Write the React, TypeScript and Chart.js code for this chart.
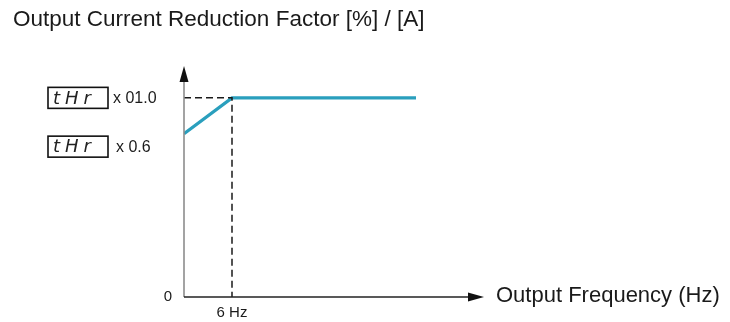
import React, { useEffect, useRef } from 'react';
import { Chart, registerables } from 'chart.js';

Chart.register(...registerables);

const titleText = 'Output Current Reduction Factor [%] / [A]';
const xAxisTitle = 'Output Frequency (Hz)';
const originLabel = '0';
const curveFreq = [0, 6, 29];
const curveFactor = [0.82, 1.0, 1.0];
const refFreq = [0, 6, 6];
const refFactor = [1.0, 1.0, 0];
const markerFreq = [6];
const markerLabels = ['6 Hz'];
const levelValues = [1.0, 0.755];
const levelLabels = ['x 01.0', 'x 0.6'];
const paramCode = 'tHr';
const xRange = [0, 37.5];
const yRange = [0, 1.16];

const FONT = '"Liberation Sans", Arial, sans-serif';

const overlay = {
  id: 'overlay',
  afterDraw(chart: any) {
    const { ctx, chartArea, scales } = chart;
    const xs = scales.x;
    const ys = scales.y;
    const x0 = xs.getPixelForValue(0);
    const y0 = ys.getPixelForValue(0);
    ctx.save();

    // title
    ctx.fillStyle = '#1a1a1a';
    ctx.font = `22.5px ${FONT}`;
    ctx.textAlign = 'left';
    ctx.textBaseline = 'middle';
    ctx.fillText(titleText, 13, 20);

    // y axis
    ctx.strokeStyle = '#8c8c8c';
    ctx.lineWidth = 1.6;
    ctx.beginPath();
    ctx.moveTo(x0, y0);
    ctx.lineTo(x0, chartArea.top + 12);
    ctx.stroke();
    ctx.fillStyle = '#111';
    ctx.beginPath();
    ctx.moveTo(x0, chartArea.top);
    ctx.lineTo(x0 - 4.5, chartArea.top + 16);
    ctx.lineTo(x0 + 4.5, chartArea.top + 16);
    ctx.closePath();
    ctx.fill();

    // x axis
    ctx.strokeStyle = '#222';
    ctx.lineWidth = 1.4;
    ctx.beginPath();
    ctx.moveTo(x0, y0);
    ctx.lineTo(chartArea.right - 12, y0);
    ctx.stroke();
    ctx.beginPath();
    ctx.moveTo(chartArea.right, y0);
    ctx.lineTo(chartArea.right - 16, y0 - 4.5);
    ctx.lineTo(chartArea.right - 16, y0 + 4.5);
    ctx.closePath();
    ctx.fill();

    // axis labels
    ctx.fillStyle = '#1a1a1a';
    ctx.font = `22px ${FONT}`;
    ctx.textAlign = 'left';
    ctx.textBaseline = 'middle';
    ctx.fillText(xAxisTitle, chartArea.right + 12, y0 - 1);

    ctx.font = `15px ${FONT}`;
    ctx.textAlign = 'right';
    ctx.fillText(originLabel, x0 - 12, y0);
    ctx.textAlign = 'center';
    ctx.textBaseline = 'top';
    markerFreq.forEach((f, i) => {
      ctx.fillText(markerLabels[i], xs.getPixelForValue(f), y0 + 8);
    });

    // level labels with parameter boxes
    levelValues.forEach((v, i) => {
      const yc = ys.getPixelForValue(v);
      const bx = x0 - 136;
      const bw = 60;
      const bh = 21;
      ctx.strokeStyle = '#111';
      ctx.lineWidth = 1.6;
      ctx.strokeRect(bx, yc - bh / 2, bw, bh);
      ctx.fillStyle = '#222';
      ctx.font = `italic 300 18px "DejaVu Sans", sans-serif`;
      ctx.textAlign = 'left';
      ctx.textBaseline = 'middle';
      (ctx as any).letterSpacing = '5px';
      ctx.fillText(paramCode, bx + 5, yc + 1);
      (ctx as any).letterSpacing = '0px';
      ctx.fillStyle = '#1a1a1a';
      ctx.font = `16px ${FONT}`;
      ctx.fillText(levelLabels[i], bx + bw + (i === 0 ? 5 : 8), yc + 1);
    });

    ctx.restore();
  },
};

export default function App() {
  const ref = useRef<HTMLCanvasElement | null>(null);
  useEffect(() => {
    document.body.style.margin = '0';
    const canvas = ref.current;
    if (!canvas) return;
    const chart = new Chart(canvas, {
      type: 'scatter',
      data: {
        datasets: [
          {
            label: 'reference',
            data: refFreq.map((x, i) => ({ x, y: refFactor[i] })),
            showLine: true,
            borderColor: '#1a1a1a',
            borderWidth: 1.5,
            borderDash: [7, 4],
            pointRadius: 0,
            fill: false,
          },
          {
            label: 'factor',
            data: curveFreq.map((x, i) => ({ x, y: curveFactor[i] })),
            showLine: true,
            borderColor: '#2a9fbd',
            borderWidth: 3.2,
            pointRadius: 0,
            fill: false,
          },
        ],
      },
      options: {
        responsive: false,
        animation: false,
        layout: { padding: { left: 184, right: 246, top: 66, bottom: 25 } },
        plugins: { legend: { display: false }, tooltip: { enabled: false }, title: { display: false } },
        scales: {
          x: { type: 'linear', min: xRange[0], max: xRange[1], display: false },
          y: { type: 'linear', min: yRange[0], max: yRange[1], display: false },
        },
      },
      plugins: [overlay],
    });
    return () => chart.destroy();
  }, []);
  return (
    <div style={{ width: 730, height: 322, background: '#fff' }}>
      <canvas ref={ref} width={730} height={322} />
    </div>
  );
}
